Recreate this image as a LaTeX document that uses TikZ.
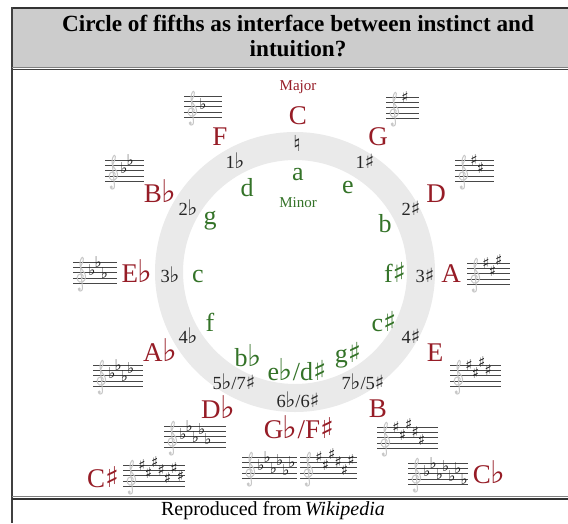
\documentclass[tikz,border=0pt]{standalone}
\usepackage{fontspec}
\setmainfont{Liberation Serif}
\newfontfamily\flf[Scale=1.16]{DejaVu Sans}
\newfontfamily\shf[Scale=1.06]{DejaVu Sans}
\newfontfamily\ntf{DejaVu Sans}
\newfontfamily\accf{DejaVu Sans}
\newcommand\fl{{\kern-0.5pt\flf\char"266D}}
\newcommand\sh{{\shf\char"266F}}
\newcommand\nt{{\ntf\char"266E}}
\definecolor{majred}{RGB}{150,28,38}
\definecolor{mingreen}{RGB}{52,115,40}
\definecolor{hdrgray}{RGB}{204,204,204}
\definecolor{ringgray}{RGB}{234,234,234}
\tikzset{
  maj/.style={anchor=base, inner sep=0pt, text=majred, font=\fontsize{27}{30}\selectfont},
  minr/.style={anchor=base, inner sep=0pt, text=mingreen, font=\fontsize{26}{30}\selectfont},
  num/.style={anchor=base, inner sep=0pt, text=black!85, font=\fontsize{18.5}{22}\selectfont},
  small/.style={anchor=base, inner sep=0pt, font=\fontsize{15}{18}\selectfont},
  staffline/.style={draw=black!72, line width=0.9pt},
  clefline/.style={draw=black!22, line width=1pt},
  acc/.style={inner sep=0pt, text=black!88, font=\accf\fontsize{15}{17}\selectfont},
  ttl/.style={anchor=base, inner sep=0pt, font=\bfseries\fontsize{23.2}{27}\selectfont},
}
\newcommand\staffbase[1]{%
  \foreach \j in {0,...,4}{\draw[staffline] (0,{\j*5.4}) -- (#1,{\j*5.4});}
  \draw[clefline] (8,16.5) .. controls (11,16.5) and (11,12) .. (7.5,12)
     .. controls (3.5,12) and (3,18.5) .. (6.5,20)
     .. controls (11,21.5) and (14,16) .. (12,12)
     .. controls (10,8) and (6.5,6) .. (7,1)
     .. controls (7.3,-3) and (9.5,-6.5) .. (10.3,-3.5)
     .. controls (11,-0.5) and (7.5,3) .. (7.5,6)
     -- (9.5,26) .. controls (9.8,29.5) and (6,30) .. (5.5,27.5);
  \fill[black!22] (6.2,27) circle[radius=1.6pt];
}
\newcommand\sharpsig[4]{%
  \begin{scope}[shift={(#1,#2)}]
    \staffbase{#3}
    \foreach \p [count=\k] in {0,3,-1,2,5,1,4}{%
      \ifnum\k>#4\relax\else
        \node[acc] at ({19+6.4*(\k-1)},{\p*2.7}) {\char"266F};
      \fi}
  \end{scope}}
\newcommand\flatsig[4]{%
  \begin{scope}[shift={(#1,#2)}]
    \staffbase{#3}
    \foreach \p [count=\k] in {4,1,5,2,6,3,7}{%
      \ifnum\k>#4\relax\else
        \node[acc, anchor=base] at ({19+6.2*(\k-1)},{\p*2.7+2.6}) {\char"266D};
      \fi}
  \end{scope}}
\begin{document}
\begin{tikzpicture}[x=1pt, y=-1pt]
\useasboundingbox (0,0) rectangle (568,523);
% frame
\fill[hdrgray] (11,8) rectangle (568,68);
\draw[black!80, line width=1.4pt] (11,8) -- (568,8);
\draw[black!75, line width=2pt] (11.5,7.3) -- (11.5,523);
\draw[gray, line width=1pt] (12,67.5) -- (568,67.5);
\draw[black!75, line width=1.2pt] (12,69.6) -- (568,69.6);
\draw[gray, line width=1pt] (12,496.5) -- (568,496.5);
\draw[black!80, line width=1.5pt] (12,499) -- (568,499);
\fill[white] (68,70.3) rectangle (523,496);
% title and caption
\node[ttl] (t1) at (298,31) {Circle of fifths as interface between instinct and};
\node[ttl] (t2) at (298,56) {intuition?};
\node[anchor=base, inner sep=0pt, font=\fontsize{20}{24}\selectfont] (cap) at (273,515) {Reproduced from\,\textit{Wikipedia}};
% ring
\fill[ringgray, even odd rule] (295,272) circle[radius=140pt] (295,272) circle[radius=112pt];
% labels
\node[small, text=majred] (major) at (298,90) {Major};
\node[small, text=mingreen] (minor) at (298,207) {Minor};
\node[maj] (C) at (298,124) {C};
\node[num, anchor=center, font=\fontsize{22}{24}\selectfont] (nat) at (297,143) {\nt};
\node[minr] (a) at (298,180) {a};
\node[maj] (G) at (378,145) {G};
\node[num] (n1s) at (365,168) {1\sh};
\node[minr] (e) at (348,193) {e};
\node[maj] (D) at (436,202) {D};
\node[num] (n2s) at (411,215) {2\sh};
\node[minr] (b) at (385,232) {b};
\node[maj] (F) at (220,145) {F};
\node[num] (n1f) at (235,168) {1\fl};
\node[minr] (d) at (247,196) {d};
\node[maj] (Bf) at (160,202) {B\fl};
\node[num] (n2f) at (188,215) {2\fl};
\node[minr] (g) at (210,224) {g};
\node[maj] (Ef) at (137,282) {E\fl};
\node[num] (n3f) at (170,282) {3\fl};
\node[minr] (c) at (198,282) {c};
\node[minr] (fs) at (395,282) {f\sh};
\node[num] (n3s) at (425,282) {3\sh};
\node[maj] (A) at (451,282) {A};
\node[minr] (f) at (210,331) {f};
\node[num] (n4f) at (188,343) {4\fl};
\node[maj] (Af) at (160,361) {A\fl};
\node[minr] (bf) at (248,366) {b\fl};
\node[num] (n57) at (234,389) {5\fl/7\sh};
\node[maj] (Df) at (218,418) {D\fl};
\node[minr] (cs) at (384,331) {c\sh};
\node[num] (n4s) at (411,343) {4\sh};
\node[maj] (E) at (435,361) {E};
\node[minr] (gs) at (348,362) {g\sh};
\node[num] (n75) at (363,389) {7\fl/5\sh};
\node[maj] (B) at (378,417) {B};
\node[minr] (efds) at (297,380) {e\fl/d\sh};
\node[num] (n66) at (298,407) {6\fl/6\sh};
\node[maj] (GfFs) at (299,438) {G\fl/F\sh};
\node[maj] (Cs) at (103,487) {C\sh};
\node[maj] (Cf) at (489,483) {C\fl};
% key signatures
\flatsig{184}{96}{38}{1}
\flatsig{105}{160}{39}{2}
\flatsig{73}{262}{44}{3}
\flatsig{93}{365}{50}{4}
\flatsig{164}{426}{62}{5}
\flatsig{242}{457}{55}{6}
\flatsig{408}{463}{60}{7}
\sharpsig{386}{97}{33}{1}
\sharpsig{455}{160}{39}{2}
\sharpsig{467}{263}{43}{3}
\sharpsig{450}{365}{51}{4}
\sharpsig{377}{427}{61}{5}
\sharpsig{300}{457}{57}{6}
\sharpsig{123}{465}{62}{7}
\end{tikzpicture}
\end{document}
